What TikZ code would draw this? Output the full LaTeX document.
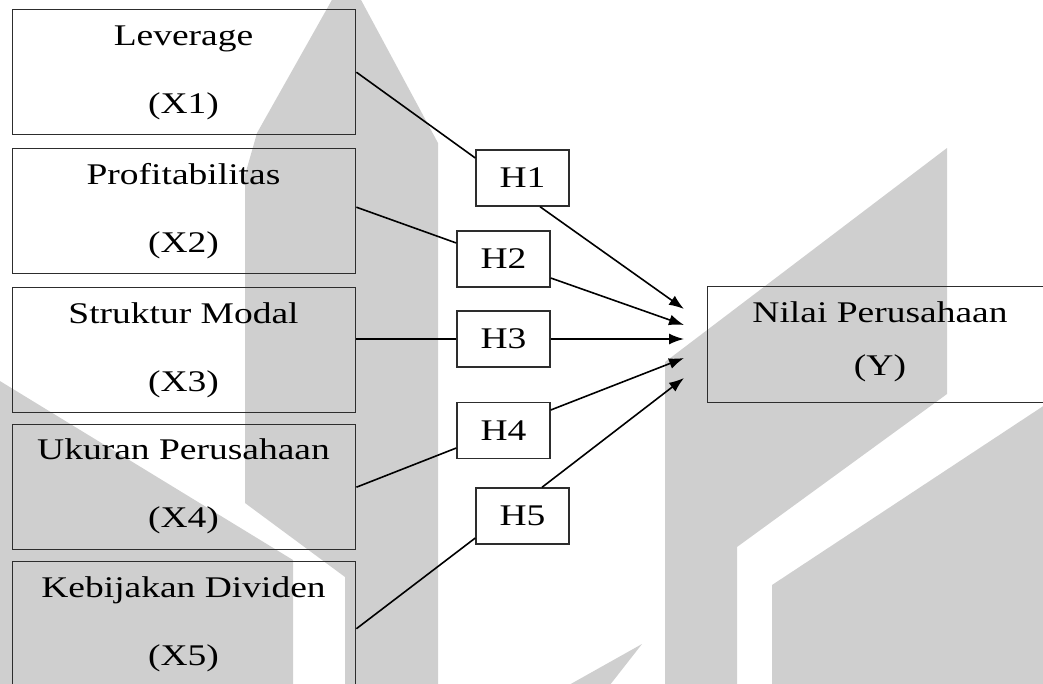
\documentclass[tikz,border=0pt]{standalone}
\usepackage{fontspec}
\setmainfont{Liberation Serif}[FakeStretch=1.25]
\usetikzlibrary{arrows.meta,calc}
\definecolor{wm}{RGB}{207,207,207}
\definecolor{bord}{RGB}{45,45,45}
\begin{document}
\begin{tikzpicture}[x=1pt,y=-1pt,
  varbox/.style={draw=bord,line width=1.4pt,minimum width=343pt,minimum height=125pt,inner sep=0pt,anchor=north west},
  hbox/.style={draw=bord,line width=1.4pt,minimum width=93pt,minimum height=56pt,inner sep=0pt,font=\fontsize{30}{36}\selectfont},
  lbl/.style={anchor=base,inner sep=0pt,font=\fontsize{30}{36}\selectfont},
  link/.style={line width=1.6pt},
  arr/.style={line width=1.6pt,-{Latex[length=15pt,width=11pt]}}]
\useasboundingbox (0,0) rectangle (1043,683);
\clip (0,0) rectangle (1043,683);
% watermark
\fill[wm] (333,-2) -- (360,-2) -- (438,143) -- (438,690) -- (345,690) -- (345,577) -- (245,503) -- (245,175) -- (257,133) -- cycle;
\fill[wm] (-5,378) -- (293,560) -- (293,690) -- (-5,690) -- cycle;
\fill[wm] (665,690) -- (665,362) -- (947,148) -- (947,394) -- (737,547) -- (737,690) -- cycle;
\fill[wm] (772,690) -- (772,585) -- (1060,395) -- (1060,690) -- cycle;
\fill[wm] (642,644) -- (606,690) -- (560,690) -- cycle;
% variable boxes
\node[varbox] (b1) at (12,9) {};
\node[lbl] (b1a) at (183.5,45) {Leverage};
\node[lbl] (b1b) at (183.5,113) {(X1)};
\node[varbox] (b2) at (12,148) {};
\node[lbl] (b2a) at (183.5,184) {Profitabilitas};
\node[lbl] (b2b) at (183.5,252) {(X2)};
\node[varbox] (b3) at (12,287) {};
\node[lbl] (b3a) at (183.5,323) {Struktur Modal};
\node[lbl] (b3b) at (183.5,391) {(X3)};
\node[varbox] (b4) at (12,424) {};
\node[lbl] (b4a) at (183.5,459) {Ukuran Perusahaan};
\node[lbl] (b4b) at (183.5,527) {(X4)};
\node[varbox] (b5) at (12,561) {};
\node[lbl] (b5a) at (183.5,597) {Kebijakan Dividen};
\node[lbl] (b5b) at (183.5,665) {(X5)};
% dependent
\node[draw=bord,line width=1.4pt,minimum width=346pt,minimum height=116pt,inner sep=0pt,anchor=north west] (y) at (707,286) {};
\node[lbl] (ya) at (880,322) {Nilai Perusahaan};
\node[lbl] (yb) at (880,375) {(Y)};
% hypotheses
\node[hbox] (h1) at (522.5,178) {H1};
\node[hbox] (h2) at (503.5,259) {H2};
\node[hbox] (h3) at (503.5,339) {H3};
\node[hbox] (h4) at (503.5,430.5) {H4};
\node[hbox] (h5) at (522.5,516) {H5};
% links
\draw[link] (b1.east) -- ([yshift=20pt]h1.west);
\draw[link] ([yshift=4pt]b2.east) -- ([yshift=16pt]h2.west);
\draw[link] (b3.east |- h3.west) -- (h3.west);
\draw[link] (b4.east) -- ([yshift=-17.5pt]h4.west);
\draw[link] ([yshift=-4.5pt]b5.east) -- ([yshift=-22pt]h5.west);
% arrow tips
\coordinate (t1) at (684,309);
\coordinate (t2) at (684,325);
\coordinate (t3) at (684,339);
\coordinate (t4) at (684,358);
\coordinate (t5) at (684,378);
\draw[arr] ([xshift=17.5pt]h1.south) -- (t1);
\draw[arr] ([yshift=-19pt]h2.east) -- (t2);
\draw[arr] (h3.east) -- (t3);
\draw[arr] ([yshift=20.5pt]h4.east) -- (t4);
\draw[arr] ([xshift=19.5pt]h5.north) -- (t5);
\end{tikzpicture}
\end{document}
